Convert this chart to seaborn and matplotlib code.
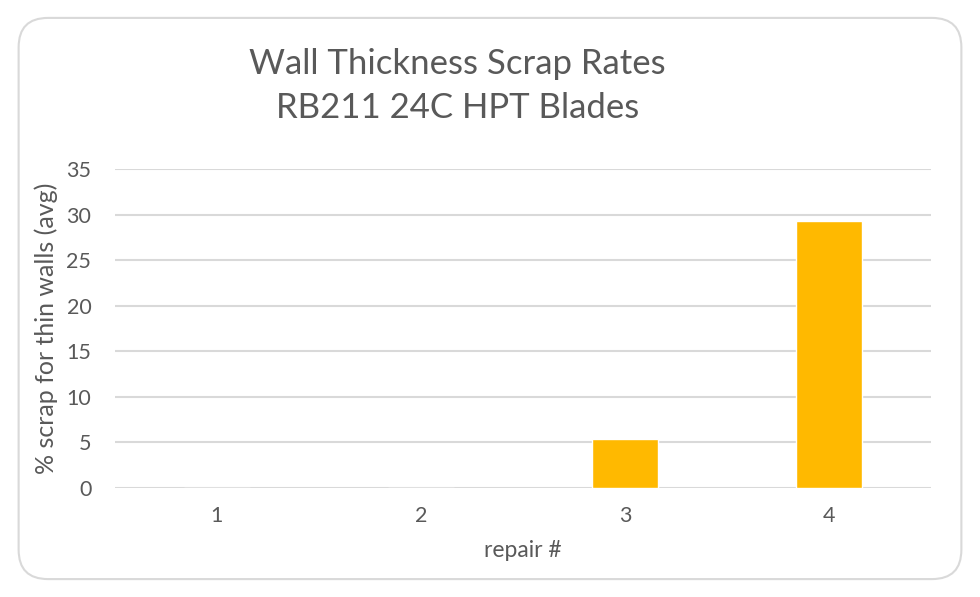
import matplotlib
matplotlib.use("Agg")
import matplotlib.pyplot as plt
import seaborn as sns
import pandas as pd
from matplotlib.patches import FancyBboxPatch

# ====================== DATA =======================
repairs = ["1", "2", "3", "4"]
scrap_pct = [0.0, 0.0, 5.4, 29.3]
y_ticks = [0, 5, 10, 15, 20, 25, 30, 35]

df = pd.DataFrame({"repair": repairs, "scrap": scrap_pct})

# ====================== STYLE =======================
sns.set_theme(style="white")
plt.rcParams["font.family"] = ["Lato", "DejaVu Sans"]
TEXT = "#595959"
GRID = "#d9d9d9"
BAR = "#ffb900"

fig = plt.figure(figsize=(9.8, 5.97), dpi=100)
fig.patch.set_facecolor("white")

# rounded chart border (behind the axes)
border = FancyBboxPatch((0.019, 0.03), 0.962, 0.94,
                        boxstyle="round,pad=0,rounding_size=0.03",
                        transform=fig.transFigure, facecolor="white",
                        edgecolor="#d9d9d9", linewidth=1.5,
                        mutation_aspect=980/597, zorder=-5)
fig.patches.append(border)

ax = fig.add_axes([0.1173, 0.1826, 0.8327, 0.5344])
ax.set_zorder(2)
ax.set_facecolor("none")

sns.barplot(data=df, x="repair", y="scrap", color=BAR, width=0.32,
            saturation=1, ax=ax, zorder=3)

ax.set_ylim(0, 35)
ax.set_xlim(-0.5, 3.5)
ax.set_yticks(y_ticks)
ax.yaxis.grid(True, color=GRID, linewidth=1.5, zorder=0)
ax.set_axisbelow(True)
for s in ax.spines.values():
    s.set_visible(False)
ax.tick_params(axis="both", length=0, labelsize=15.5, labelcolor=TEXT)
ax.tick_params(axis="x", pad=13)
ax.tick_params(axis="y", pad=17)

ax.set_xlabel("repair #", fontsize=16.5, color=TEXT, labelpad=10)
ax.set_ylabel("% scrap for thin walls (avg)", fontsize=18, color=TEXT, labelpad=6)

fig.text(0.467, 0.856, "Wall Thickness Scrap Rates\nRB211 24C HPT Blades",
         ha="center", va="center", fontsize=25, color=TEXT, linespacing=1.45)

fig.savefig("out.png", dpi=100)
